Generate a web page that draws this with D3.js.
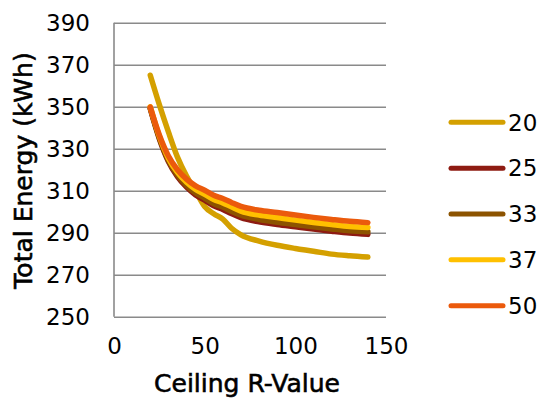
<!DOCTYPE html>
<html>
<head>
<meta charset="utf-8">
<script src="https://cdn.jsdelivr.net/npm/d3@7"></script>
<style>
  html, body { margin: 0; padding: 0; background: #fff; }
  svg { display: block; }
  text { font-family: "DejaVu Sans", sans-serif; fill: #000; }
</style>
</head>
<body>
<svg id="chart" width="543" height="403"></svg>
<script>
const rValues = [20, 25, 30, 35, 40, 45, 50, 55, 60, 65, 70, 80, 90, 100, 110, 120, 130, 140];
const series20 = [365, 351, 338, 326, 317, 309.8, 302.5, 299, 296.5, 292, 289, 286, 284, 282.5, 281.2, 279.8, 279, 278.4];
const series25 = [349, 334.7, 323.9, 316.7, 311.7, 308, 305.5, 302.8, 301.1, 299, 297.2, 295.2, 293.9, 292.8, 291.7, 290.7, 289.8, 289.2];
const series33 = [349.3, 335.2, 324.5, 317.4, 312.5, 308.9, 306.5, 303.8, 302.2, 300.1, 298.3, 296.3, 295, 293.9, 292.8, 291.8, 290.9, 290.4];
const series37 = [350, 336, 325.5, 318.7, 314, 310.6, 308.3, 305.8, 304.2, 302.2, 300.3, 298.4, 297.2, 296, 294.9, 293.9, 293, 292.5];
const series50 = [349.8, 336.5, 326.5, 320, 315.5, 312.3, 310.2, 307.8, 306.3, 304.3, 302.5, 300.7, 299.6, 298.4, 297.3, 296.3, 295.4, 294.8];
const seriesNames = ["20", "25", "33", "37", "50"];
const seriesColors = ["#D4A000", "#8E1B12", "#8C5300", "#FFC000", "#EB5A0C"];
const xTicks = [0, 50, 100, 150];
const yTicks = [250, 270, 290, 310, 330, 350, 370, 390];
const xTitle = "Ceiling R-Value";
const yTitle = "Total Energy (kWh)";

const allSeries = [series20, series25, series33, series37, series50];

const svg = d3.select("#chart");
const pLeft = 114, pRight = 386, pTop = 22.7, pBottom = 316.7;

const x = d3.scaleLinear().domain([0, 150]).range([pLeft, pRight]);
const y = d3.scaleLinear().domain([250, 390]).range([pBottom, pTop]);

// gridlines
svg.append("g")
  .attr("transform", `translate(${pLeft},0)`)
  .call(d3.axisLeft(y).tickValues(yTicks).tickSize(-(pRight - pLeft)).tickFormat(""))
  .call(g => g.select(".domain").remove())
  .call(g => g.selectAll("line").attr("stroke", "#8a8a8a").attr("stroke-width", 1.4));

// left axis line
svg.append("line")
  .attr("x1", pLeft).attr("x2", pLeft).attr("y1", pTop).attr("y2", pBottom)
  .attr("stroke", "#8a8a8a").attr("stroke-width", 1.6);

// y tick labels
svg.append("g")
  .attr("transform", `translate(${pLeft},0)`)
  .call(d3.axisLeft(y).tickValues(yTicks).tickSize(0).tickPadding(24).tickFormat(d3.format("d")))
  .call(g => g.select(".domain").remove())
  .call(g => g.selectAll("text")
    .attr("font-family", "DejaVu Sans").attr("font-size", 23).attr("fill", "#000"));

// x tick labels
svg.append("g")
  .attr("transform", `translate(0,${pBottom})`)
  .call(d3.axisBottom(x).tickValues(xTicks).tickSize(0).tickPadding(21).tickFormat(d3.format("d")))
  .call(g => g.select(".domain").remove())
  .call(g => g.selectAll("text")
    .attr("font-family", "DejaVu Sans").attr("font-size", 23).attr("fill", "#000"));

// axis titles
svg.append("text")
  .attr("x", 247).attr("y", 391.5)
  .attr("text-anchor", "middle")
  .attr("font-family", "Roboto").attr("font-size", 25)
  .attr("stroke", "#000").attr("stroke-width", 0.6)
  .text(xTitle);

svg.append("text")
  .attr("transform", "translate(31.5,170.5) rotate(-90)")
  .attr("text-anchor", "middle")
  .attr("font-family", "Roboto").attr("font-size", 25)
  .attr("stroke", "#000").attr("stroke-width", 0.6)
  .text(yTitle);

// lines
const line = d3.line()
  .x((d, i) => x(rValues[i]))
  .y(d => y(d))
  .curve(d3.curveMonotoneX);

svg.append("g").selectAll("path")
  .data(allSeries)
  .join("path")
  .attr("d", d => line(d))
  .attr("fill", "none")
  .attr("stroke", (d, i) => seriesColors[i])
  .attr("stroke-width", 5.5)
  .attr("stroke-linecap", "round")
  .attr("stroke-linejoin", "round");

// legend
const legendY = d3.scalePoint().domain(seriesNames).range([122.3, 305.7]);
const lg = svg.append("g").selectAll("g")
  .data(seriesNames)
  .join("g")
  .attr("transform", d => `translate(0,${legendY(d)})`);
lg.append("line")
  .attr("x1", 451).attr("x2", 503)
  .attr("stroke", (d, i) => seriesColors[i])
  .attr("stroke-width", 5)
  .attr("stroke-linecap", "round");
lg.append("text")
  .attr("x", 508).attr("y", 0)
  .attr("dy", "0.36em")
  .attr("font-size", 23)
  .text(d => d);
</script>
</body>
</html>
